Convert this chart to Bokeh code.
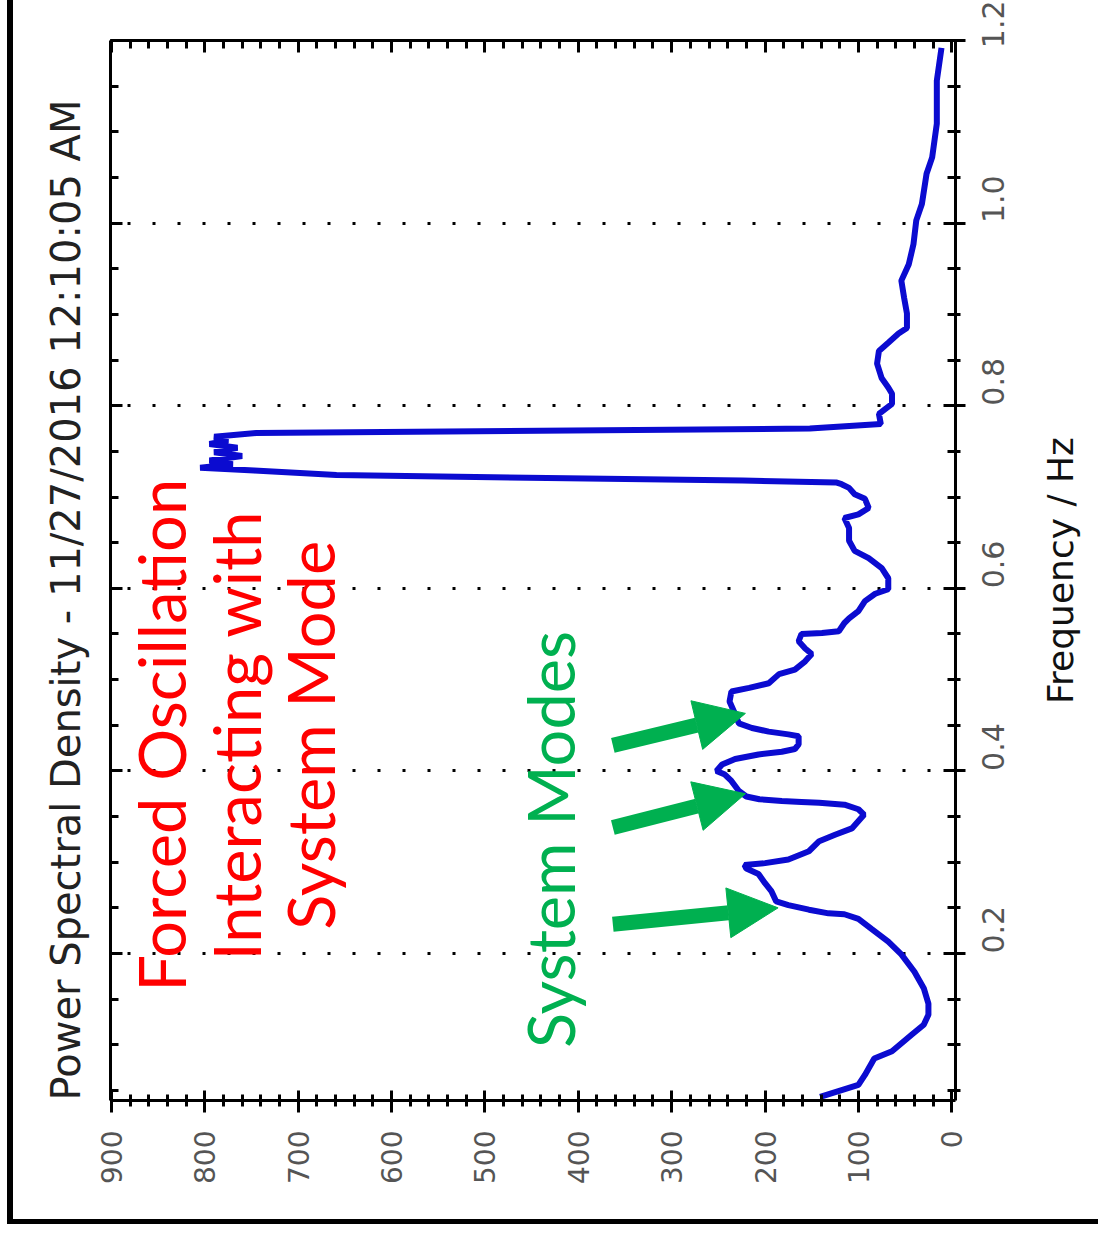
import math
from bokeh.plotting import figure
from bokeh.layouts import row
from bokeh.models import (LinearAxis, FixedTicker, Grid, Range1d, Label, Arrow,
                          NormalHead, PrintfTickFormatter, ColumnDataSource, Title)
from bokeh.embed import file_html
from bokeh.resources import INLINE

# ---------------- data ----------------
freq = [0.043, 0.056, 0.067, 0.085, 0.093, 0.111, 0.122, 0.133, 0.145, 0.162,
        0.180, 0.199, 0.213, 0.227, 0.238, 0.243, 0.244, 0.248, 0.253, 0.257,
        0.268, 0.277, 0.287, 0.293, 0.297, 0.299, 0.303, 0.312, 0.323, 0.330,
        0.337, 0.352, 0.358, 0.363, 0.365, 0.366, 0.367, 0.369, 0.372, 0.378,
        0.389, 0.396, 0.400, 0.407, 0.413, 0.418, 0.421, 0.424, 0.429, 0.438,
        0.440, 0.443, 0.447, 0.452, 0.462, 0.476, 0.487, 0.491, 0.496, 0.506,
        0.511, 0.520, 0.528, 0.534, 0.542, 0.550, 0.551, 0.553, 0.562, 0.567,
        0.575, 0.586, 0.594, 0.599, 0.611, 0.622, 0.633, 0.641, 0.652, 0.666,
        0.677, 0.681, 0.688, 0.698, 0.703, 0.710, 0.714, 0.716, 0.718, 0.724,
        0.729, 0.732, 0.736, 0.740, 0.745, 0.749, 0.754, 0.758, 0.762, 0.766,
        0.770, 0.775, 0.780, 0.791, 0.802, 0.813, 0.820, 0.830, 0.846, 0.860,
        0.869, 0.879, 0.885, 0.901, 0.918, 0.937, 0.955, 0.977, 1.003, 1.021,
        1.054, 1.072, 1.109, 1.156, 1.192]
psd = [141, 100, 93, 83, 64, 43, 30, 25, 25, 30,
       40, 54, 68, 86, 100, 115, 132, 153, 175, 188,
       193, 200, 207, 220, 222, 200, 175, 153, 142, 125,
       107, 94, 100, 115, 142, 161, 182, 206, 220, 228,
       236, 243, 252, 246, 232, 207, 182, 168, 164, 164,
       175, 196, 214, 228, 232, 238, 236, 217, 196, 185,
       168, 157, 150, 157, 164, 161, 139, 121, 115, 110,
       100, 93, 82, 68, 68, 75, 89, 104, 110, 110,
       115, 100, 89, 93, 104, 110, 118, 124, 224, 659,
       747, 805, 770, 795, 760, 790, 765, 795, 775, 790,
       745, 152, 76, 78, 64, 64, 68, 75, 80, 78,
       68, 57, 48, 48, 51, 54, 46, 41, 38, 32,
       27, 21, 16, 16, 11]

psd_ticks = [0, 100, 200, 300, 400, 500, 600, 700, 800, 900]
psd_minor = list(range(0, 901, 20))
freq_ticks = [0.2, 0.4, 0.6, 0.8, 1.0, 1.2]
freq_grid = [0.2, 0.4, 0.6, 0.8, 1.0]
freq_minor = [round(0.05 * i, 2) for i in range(1, 25)]

title_text = "Power Spectral Density - 11/27/2016 12:10:05 AM"
xlabel_text = "Frequency / Hz"
red_lines = ["Forced Oscillation", "Interacting with", "System Mode"]
green_text = "System Modes"

# annotation anchor positions (data units: psd, freq)
red_x = [847, 767, 687]
red_y = 0.439
green_pos = (430, 0.325)
arrow_tail_psd = [363, 363, 363]
arrow_tail_f = [0.428, 0.338, 0.232]
arrow_tip_psd = [221, 221, 186]
arrow_tip_f = [0.463, 0.375, 0.250]

# ---------------- main figure ----------------
p = figure(width=1021, height=1219,
           x_range=Range1d(901, -4), y_range=Range1d(0.039, 1.2),
           x_axis_type=None, y_axis_type=None,
           output_backend="svg", toolbar_location=None,
           min_border_left=97, min_border_right=79,
           min_border_top=40, min_border_bottom=119)
p.outline_line_color = None
p.background_fill_color = "white"
p.border_fill_color = "white"


def make_axis(ticker, tin, tout, min_in, min_out, labels=True, formatter=None):
    ax = LinearAxis(ticker=ticker)
    ax.axis_line_color = "black"
    ax.axis_line_width = 3
    ax.major_tick_line_color = "black"
    ax.major_tick_line_width = 3
    ax.minor_tick_line_color = "black"
    ax.minor_tick_line_width = 3
    ax.major_tick_in = tin
    ax.major_tick_out = tout
    ax.minor_tick_in = min_in
    ax.minor_tick_out = min_out
    if formatter is not None:
        ax.formatter = formatter
    if labels:
        ax.major_label_orientation = math.pi / 2
        ax.major_label_text_font = "DejaVu Sans"
        ax.major_label_text_font_size = "28px"
        ax.major_label_text_color = "#555555"
        ax.major_label_standoff = 18
    else:
        ax.major_label_text_font_size = "0px"
        ax.major_label_text_color = None
        ax.major_label_standoff = 0
    return ax


psd_ticker = FixedTicker(ticks=psd_ticks, minor_ticks=psd_minor)
freq_ticker = FixedTicker(ticks=freq_ticks, minor_ticks=freq_minor)

p.add_layout(make_axis(psd_ticker, 10, 12, 6, 6), "below")
p.add_layout(make_axis(psd_ticker, 12, 0, 8, 0, labels=False), "above")
p.add_layout(make_axis(freq_ticker, 12, 0, 8, 0, labels=False), "left")

right_ax = make_axis(freq_ticker, 12, 10, 8, 5,
                     formatter=PrintfTickFormatter(format="%.1f"))
right_ax.major_label_standoff = 28
right_ax.major_label_text_font_size = "30px"
p.add_layout(right_ax, "right")

p.add_layout(Title(text=title_text, align="left", vertical_align="top",
                   text_font="DejaVu Sans",
                   text_font_size="40px", text_font_style="normal",
                   text_color="#222222", standoff=40), "left")

grid = Grid(dimension=1, ticker=FixedTicker(ticks=freq_grid))
grid.grid_line_color = "black"
grid.grid_line_width = 3
grid.grid_line_dash = "3 22"
p.add_layout(grid)

src = ColumnDataSource(data=dict(psd=psd, freq=freq))
p.line(x="psd", y="freq", source=src, line_color="#0B0BD0", line_width=6)

for xx, t in zip(red_x, red_lines):
    p.add_layout(Label(x=xx, y=red_y, text=t, angle=math.pi / 2,
                       text_align="center", text_baseline="alphabetic",
                       text_font="Lato", text_font_size="65px", text_color="#FF0000"))
p.add_layout(Label(x=green_pos[0], y=green_pos[1], text=green_text, angle=math.pi / 2,
                   text_align="center", text_baseline="alphabetic",
                   text_font="Lato", text_font_size="65px", text_color="#00B050"))

for x0, y0, x1, y1 in zip(arrow_tail_psd, arrow_tail_f, arrow_tip_psd, arrow_tip_f):
    p.add_layout(Arrow(x_start=x0, y_start=y0, x_end=x1, y_end=y1,
                       line_color="#00B050", line_width=15,
                       end=NormalHead(size=50, fill_color="#00B050",
                                      line_color="#00B050", line_width=1)))

# ---------------- narrow strip holding the frequency-axis title ----------------
p2 = figure(width=64, height=1219, x_range=Range1d(0, 1), y_range=Range1d(0, 1),
            x_axis_type=None, y_axis_type=None,
            output_backend="svg", toolbar_location=None,
            min_border_left=0, min_border_right=0,
            min_border_top=40, min_border_bottom=119)
p2.outline_line_color = None
p2.background_fill_color = "white"
p2.border_fill_color = "white"
p2.grid.visible = False
p2.add_layout(Title(text=xlabel_text, align="center", text_font="DejaVu Sans",
                    text_font_size="36px", text_font_style="normal",
                    text_color="#111111", standoff=6), "left")

layout = row(p, p2, spacing=0,
             styles={"margin-left": "7px", "border-left": "6px solid black",
                     "border-bottom": "5px solid black"})

open("out.html", "w").write(file_html(layout, INLINE))
